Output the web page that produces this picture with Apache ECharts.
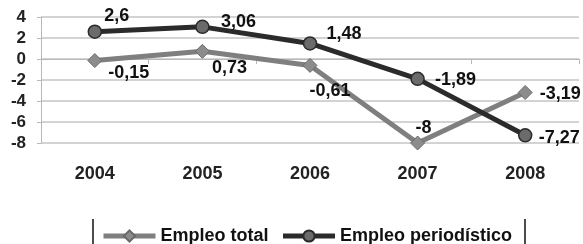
<!DOCTYPE html>
<html>
<head>
<meta charset="utf-8">
<script src="https://cdn.jsdelivr.net/npm/echarts@6/dist/echarts.min.js"></script>
<style>
  html, body { margin: 0; padding: 0; background: #fff; }
  #chart { width: 583px; height: 244px; }
</style>
</head>
<body>
<div id="chart"></div>
<script>
const years = ['2004', '2005', '2006', '2007', '2008'];
const empleoTotal = [-0.15, 0.73, -0.61, -8, -3.19];
const empleoPeriodistico = [2.6, 3.06, 1.48, -1.89, -7.27];

// label nudges (px) relative to each marker
const totalOffsets = [[34, 12], [27, 17], [20, 26], [6, -15], [35, 2]];
const periOffsets = [[22, -16], [36, -5], [34, -9], [38, 1], [34, 3]];

const font = 'Liberation Sans, Arial, sans-serif';
const fmt = (p) => String(p.value).replace('.', ',');

function withLabels(values, offsets) {
  return values.map((v, i) => ({
    value: v,
    label: { offset: offsets[i] }
  }));
}

const chart = echarts.init(document.getElementById('chart'), null, { renderer: 'canvas' });
chart.setOption({
  animation: false,
  textStyle: { fontFamily: font },
  grid: { left: 41, right: 4, top: 17, bottom: 101 },
  xAxis: {
    type: 'category',
    data: years,
    boundaryGap: true,
    axisLine: { show: true, lineStyle: { color: '#b8b8b8', width: 1 } },
    axisTick: { show: true, length: 5, lineStyle: { color: '#b8b8b8' } },
    axisLabel: { margin: 22, fontSize: 18, fontWeight: 'bold', color: '#222', fontFamily: font }
  },
  yAxis: {
    type: 'value',
    min: -8, max: 4, interval: 2,
    axisLine: { show: true, lineStyle: { color: '#b8b8b8' } },
    axisTick: { show: true, length: 4, lineStyle: { color: '#b8b8b8' } },
    splitLine: { lineStyle: { color: '#c4c4c4', width: 1.5 } },
    axisLabel: { margin: 15, fontSize: 17, fontWeight: 'bold', color: '#222', fontFamily: font }
  },
  legend: {
    bottom: -6,
    left: 96,
    itemWidth: 52,
    itemHeight: 14,
    itemGap: 12,
    lineStyle: { width: 5 },
    textStyle: { fontSize: 18, fontWeight: 'bold', color: '#111', fontFamily: font },
    data: ['Empleo total', 'Empleo periodístico']
  },
  graphic: [
    { type: 'line', shape: { x1: 93, y1: 219, x2: 93, y2: 244 }, style: { stroke: '#111', lineWidth: 1.5 } },
    { type: 'line', shape: { x1: 525, y1: 219, x2: 525, y2: 244 }, style: { stroke: '#111', lineWidth: 1.5 } }
  ],
  series: [
    {
      name: 'Empleo total',
      type: 'line',
      data: withLabels(empleoTotal, totalOffsets),
      symbol: 'diamond',
      symbolSize: 14,
      lineStyle: { color: '#7f7f7f', width: 5 },
      itemStyle: { color: '#8c8c8c', borderColor: '#6a6a6a', borderWidth: 1 },
      label: {
        show: true, position: 'inside', formatter: fmt,
        fontSize: 18, fontWeight: 'bold', color: '#111', fontFamily: font
      },
      z: 2
    },
    {
      name: 'Empleo periodístico',
      type: 'line',
      data: withLabels(empleoPeriodistico, periOffsets),
      symbol: 'circle',
      symbolSize: 13,
      lineStyle: { color: '#2b2b2b', width: 5 },
      itemStyle: { color: '#6b6b6b', borderColor: '#2b2b2b', borderWidth: 1.5 },
      label: {
        show: true, position: 'inside', formatter: fmt,
        fontSize: 18, fontWeight: 'bold', color: '#111', fontFamily: font
      },
      z: 3
    }
  ]
});
</script>
</body>
</html>
